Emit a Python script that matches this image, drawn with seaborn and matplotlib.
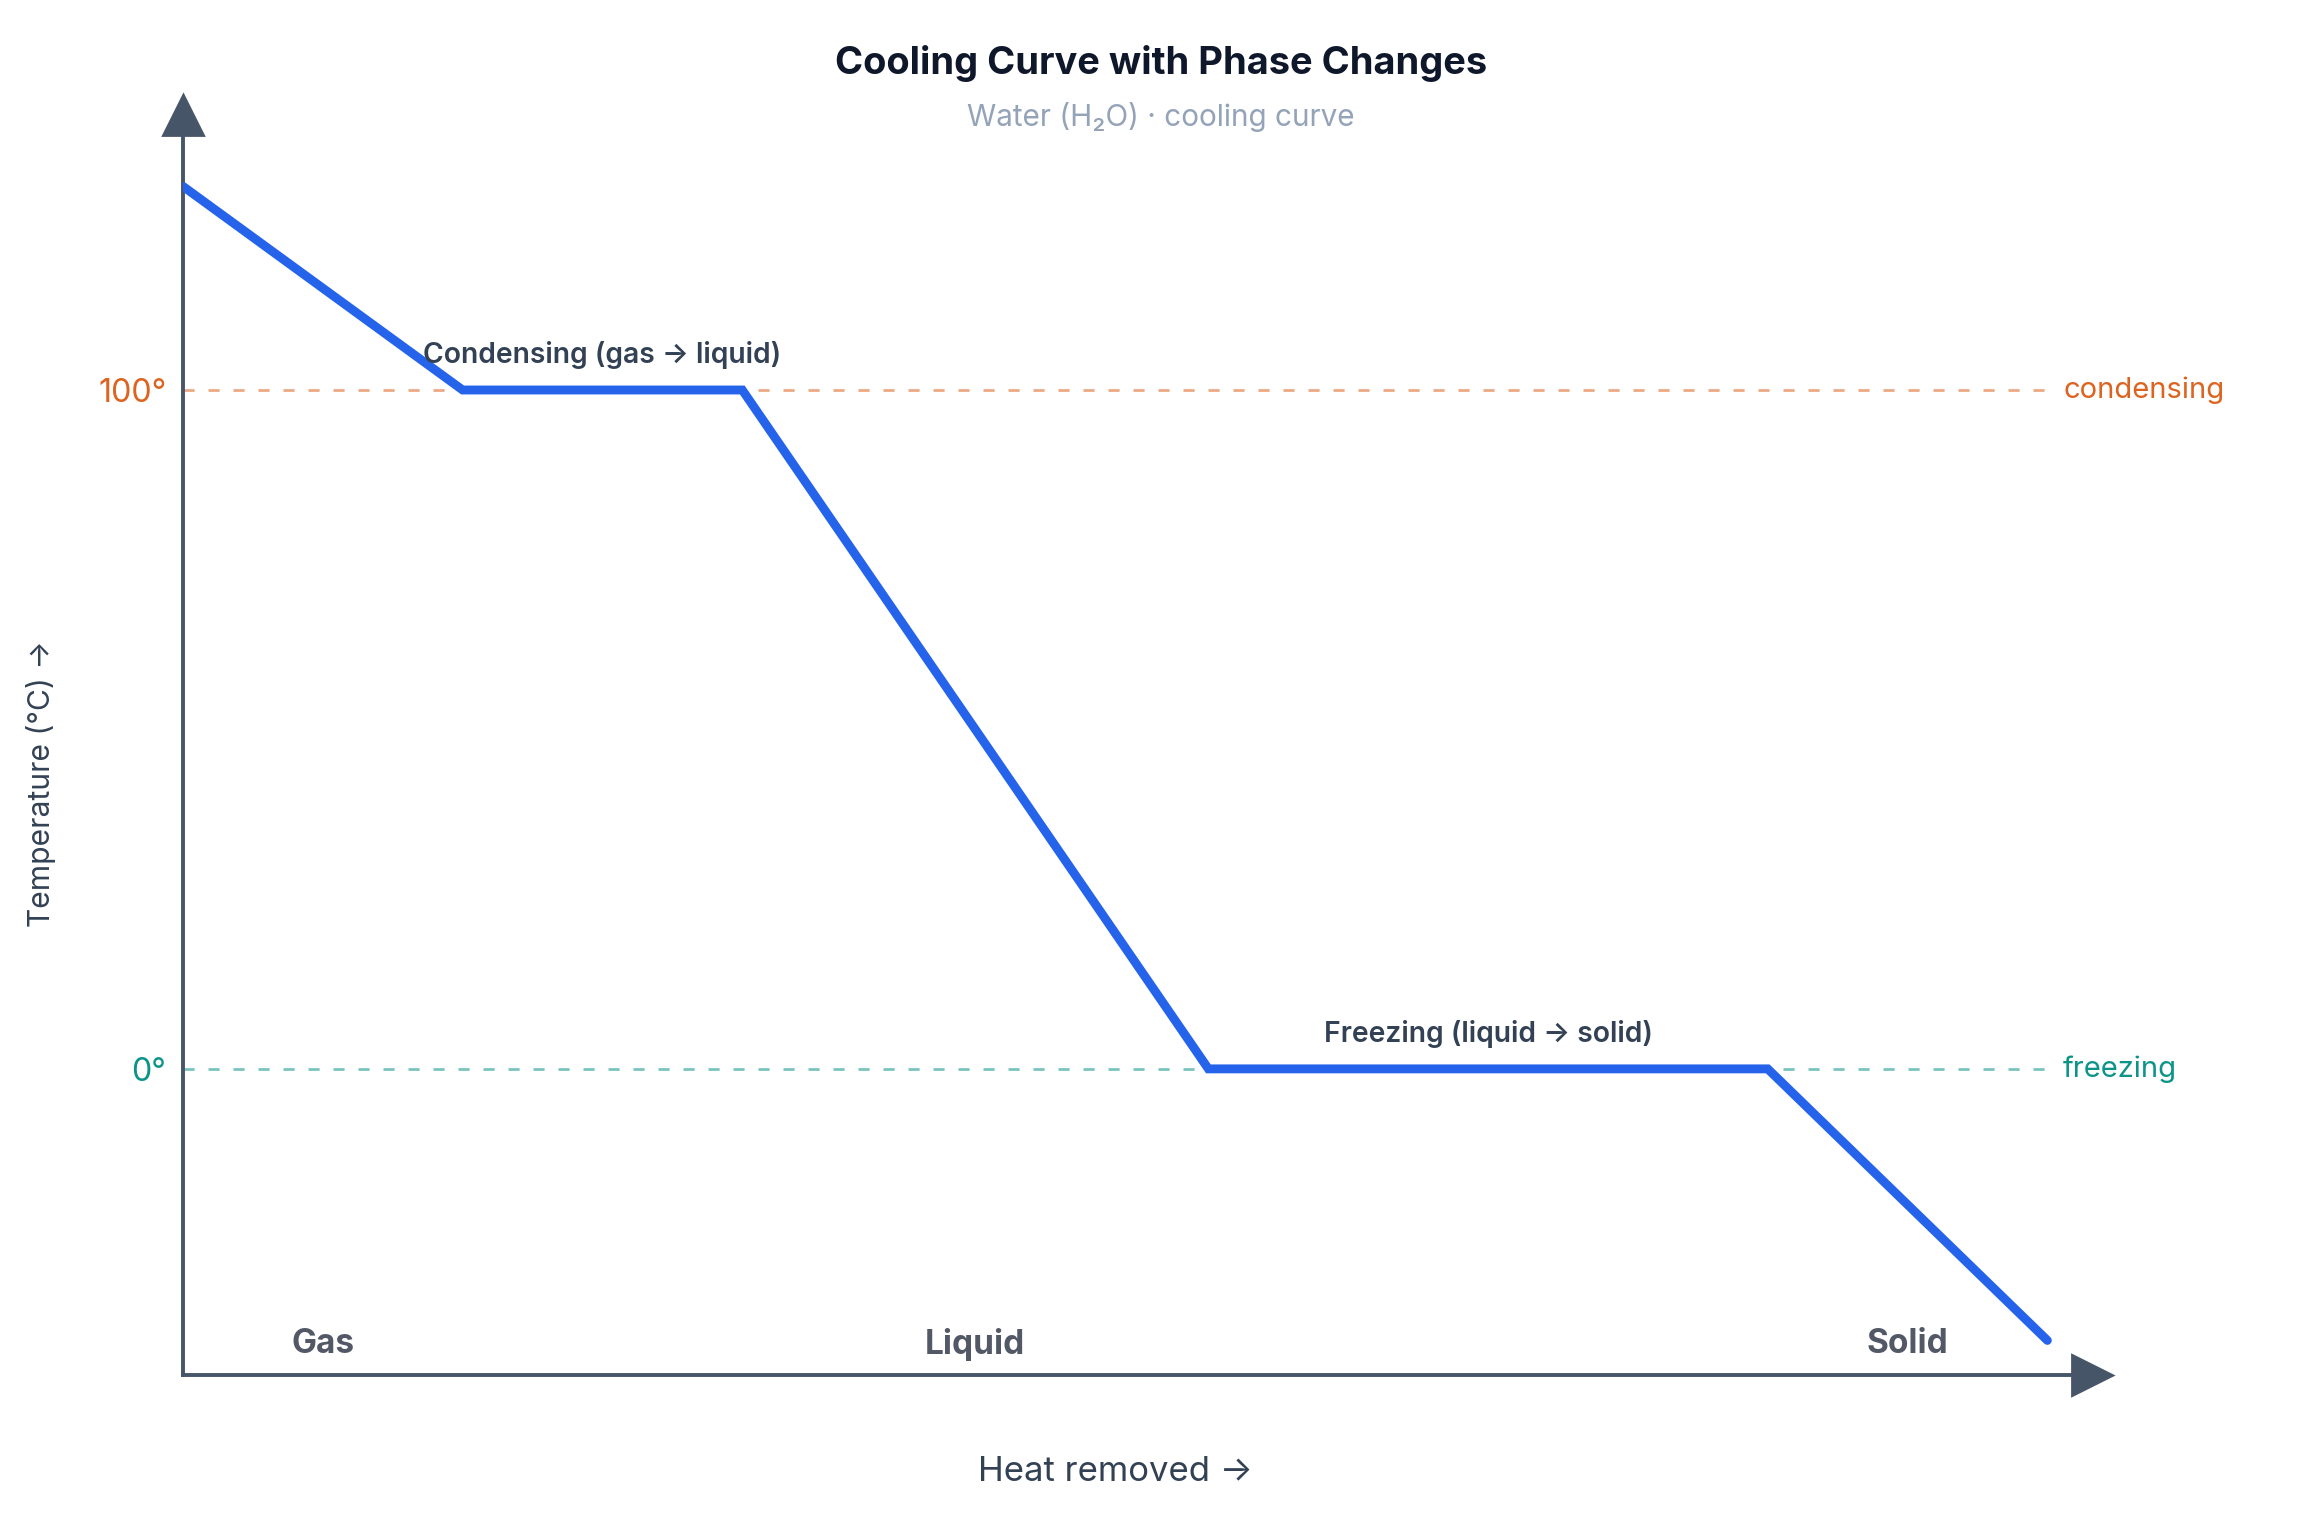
import matplotlib
matplotlib.use("Agg")
from matplotlib import pyplot as plt
import pandas as pd
import seaborn as sns

# cooling curve for water, heat removed (arbitrary units) vs temperature
heat_removed = [0, 30, 60, 110, 170, 200]
temperature = [130, 100, 100, 0, 0, -40]

phase_names = ["Gas", "Liquid", "Solid"]
phase_x = [15, 85, 185]

change_names = ["Condensing (gas \u2192 liquid)", "Freezing (liquid \u2192 solid)"]
change_x = [45, 140]
change_temp = [100, 0]
change_tags = ["condensing", "freezing"]
change_colors = ["#dd6320", "#0d9488"]
tick_labels = ["100\u00b0", "0\u00b0"]

df = pd.DataFrame({"heat": heat_removed, "temp": temperature})

sns.set_theme(style="white")
plt.rcParams["font.family"] = ["Inter", "DejaVu Sans"]

fig = plt.figure(figsize=(11.61, 7.64), dpi=200)
ax = fig.add_axes([0.0788, 0.1001, 0.9010 - 0.0788, 0.9247 - 0.1001])

axis_col = "#475569"
ax.set_xlim(0, 204.8)
ax.set_ylim(-45.1, 140.5)

# reference lines at the phase-change temperatures
for t, c, tag in zip(change_temp, change_colors, change_tags):
    ax.plot([0, 200], [t, t], color=c, alpha=0.55, lw=1.0, dashes=(4, 5), zorder=1)
    ax.text(201.7, t, tag, color=c, fontsize=10.5, va="center", ha="left", clip_on=False)

sns.lineplot(data=df, x="heat", y="temp", sort=False, color="#2563eb", lw=3.2,
             ax=ax, zorder=3, solid_capstyle="round", solid_joinstyle="miter")

for name, x, t in zip(change_names, change_x, change_temp):
    ax.text(x, t + 5.2, name, ha="center", va="center", fontsize=10.2,
            fontweight="semibold", color="#334155", zorder=4)

for name, x in zip(phase_names, phase_x):
    ax.text(x, -40.6, name, ha="center", va="center", fontsize=12,
            fontweight="bold", color="#525866")

# axes as arrows
for side in ["top", "right"]:
    ax.spines[side].set_visible(False)
for side in ["left", "bottom"]:
    ax.spines[side].set_color(axis_col)
    ax.spines[side].set_linewidth(1.4)
ax.plot(1, 0, ">", color=axis_col, ms=14.4, transform=ax.transAxes, clip_on=False)
ax.plot(0, 1, "^", color=axis_col, ms=14.4, transform=ax.transAxes, clip_on=False)

ax.set_xticks([])
ax.set_yticks(change_temp)
ax.set_yticklabels(tick_labels, fontsize=11.6)
for lab, c in zip(ax.get_yticklabels(), change_colors):
    lab.set_color(c)
ax.tick_params(axis="y", length=0, pad=6)
ax.set_xlabel("")
ax.set_ylabel("")

fig.text(1115 / 2322, 1 - 1472 / 1528, "Heat removed \u2192", ha="center", va="center",
         fontsize=12.5, color="#334155")
fig.text(41 / 2322, 1 - 784 / 1528, "Temperature (\u00b0C) \u2192", ha="center", va="center",
         rotation=90, fontsize=10.8, color="#334155")

fig.text(0.5, 1 - 64 / 1528, "Cooling Curve with Phase Changes", ha="center", va="center",
         fontsize=13.7, fontweight="bold", color="#0f172a")
fig.text(0.5, 1 - 117 / 1528, "Water (H\u2082O) \u00b7 cooling curve", ha="center", va="center",
         fontsize=10.7, color="#94a3b8")

fig.savefig("out.png", dpi=200, facecolor="white")
